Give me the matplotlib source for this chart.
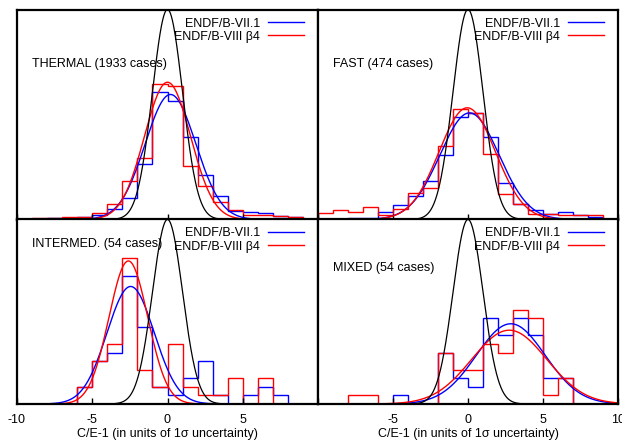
import numpy as np
import matplotlib
matplotlib.use("Agg")
import matplotlib.pyplot as plt

plt.rcParams['font.family'] = ['Liberation Sans', 'DejaVu Sans']

# bin edges in units of 1 sigma, bins [-10,-9] ... [9,10]
edges = np.arange(-10, 11)

# histogram densities (one value per bin)
thermal_v71 = [0, 0, 0.002, 0.003, 0.004, 0.009, 0.020, 0.041, 0.106, 0.242,
               0.225, 0.157, 0.085, 0.044, 0.017, 0.014, 0.012, 0.006, 0.004, 0]
thermal_v80 = [0, 0.0025, 0.003, 0.004, 0.005, 0.012, 0.030, 0.074, 0.117, 0.258,
               0.254, 0.101, 0.064, 0.034, 0.018, 0.009, 0.008, 0.006, 0.004, 0]

fast_v71 = [0, 0, 0.002, 0.002, 0.014, 0.028, 0.044, 0.074, 0.123, 0.195,
            0.202, 0.157, 0.069, 0.030, 0.018, 0.010, 0.015, 0.008, 0.005, 0]
fast_v80 = [0.013, 0.018, 0.015, 0.023, 0.008, 0.020, 0.050, 0.060, 0.139, 0.210,
            0.203, 0.125, 0.049, 0.030, 0.011, 0.010, 0.008, 0.008, 0.008, 0]

# intermediate and mixed: counts per bin out of 54 cases
interm_cases = 54
interm_v71 = [0, 0, 0, 0, 2, 5, 6, 15, 9, 2, 1, 3, 5, 1, 0, 1, 2, 1, 0, 0]
interm_v80 = [0, 0, 0, 0, 2, 5, 7, 17, 4, 2, 7, 2, 1, 1, 3, 0, 3, 0, 0, 0]

mixed_cases = 54
mixed_v71 = [0, 0, 0, 0, 0, 1, 0, 0, 6, 3, 2, 10, 8, 10, 8, 3, 3, 0, 0, 0]
mixed_v80 = [0, 0, 1, 1, 0, 0, 0, 0, 6, 4, 4, 7, 6, 11, 10, 1, 3, 0, 0, 0]

# gaussian fits (mean, sigma)
fits = {
    'thermal': ((0.2, 1.68), (0.0, 1.53)),
    'fast': ((0.1, 1.97), (-0.05, 1.88)),
    'interm': ((-2.45, 1.57), (-2.6, 1.29)),
    'mixed': ((2.85, 2.3), (2.75, 2.5)),
}

panels = [
    ('thermal', 'THERMAL (1933 cases)', thermal_v71, thermal_v80),
    ('fast', 'FAST (474 cases)', fast_v71, fast_v80),
    ('interm', 'INTERMED. (54 cases)', np.array(interm_v71) / interm_cases,
     np.array(interm_v80) / interm_cases),
    ('mixed', 'MIXED (54 cases)', np.array(mixed_v71) / mixed_cases,
     np.array(mixed_v80) / mixed_cases),
]


def gauss(x, mu, sig):
    return np.exp(-0.5 * ((x - mu) / sig) ** 2) / (sig * np.sqrt(2 * np.pi))


def trim(vals):
    # drop empty bins at both ends so no line runs along the axis
    vals = np.asarray(vals, dtype=float)
    nz = np.nonzero(vals)[0]
    i0, i1 = nz[0], nz[-1] + 1
    return vals[i0:i1], edges[i0:i1 + 1]


fig = plt.figure(figsize=(6.22, 4.41), dpi=100)
W, H = 622.0, 441.0
boxes = [
    (17, 9.5, 301, 210),
    (318, 9.5, 300, 210),
    (17, 219.5, 301, 184.5),
    (318, 219.5, 300, 184.5),
]
# label heights, pixels below the top of each panel
title_dy = [55, 55, 25, 48]

xx = np.linspace(-10, 10, 801)
blue = '#0000ff'
red = '#ff0000'

for i, (key, title, v71, v80) in enumerate(panels):
    x0, y0, w, h = boxes[i]
    ax = fig.add_axes([x0 / W, 1 - (y0 + h) / H, w / W, h / H])

    vals, e = trim(v71)
    ax.stairs(vals, e, color=blue, lw=1.0, baseline=0)
    vals, e = trim(v80)
    ax.stairs(vals, e, color=red, lw=1.0, baseline=0)

    (m1, s1), (m2, s2) = fits[key]
    ax.plot(xx, gauss(xx, m1, s1), color=blue, lw=1.0, label='ENDF/B-VII.1')
    ax.plot(xx, gauss(xx, m2, s2), color=red, lw=1.0, label='ENDF/B-VIII β4')
    ax.plot(xx, gauss(xx, 0, 1), color='black', lw=0.9)

    ax.set_xlim(-10, 10)
    ax.set_ylim(0, 0.3989)
    ax.set_yticks([])
    ax.set_xticks([-10, -5, 0, 5, 10])
    ax.tick_params(axis='x', direction='in', length=4, width=1, pad=7,
                   labelsize=9)
    for sp in ax.spines.values():
        sp.set_linewidth(1.6)

    if i < 2:
        ax.set_xticklabels([])
    else:
        if i == 2:
            ax.set_xticklabels(['-10', '-5', '0', '5', ''])
        else:
            ax.set_xticklabels(['', '-5', '0', '5', '10'])
        ax.set_xlabel('C/E-1 (in units of 1σ uncertainty)', fontsize=9,
                      labelpad=1.5)

    ax.text(15 / w, 1 - title_dy[i] / h, title, transform=ax.transAxes,
            fontsize=9, va='center', ha='left')

    ax.legend(loc='upper right', frameon=False, markerfirst=False, fontsize=9,
              handlelength=2.9, handletextpad=0.6, labelspacing=0.1,
              borderaxespad=0.0, borderpad=0.2,
              bbox_to_anchor=(1 - 11.5 / w, 1 - 5.5 / h))

fig.savefig('out.png', dpi=100)
